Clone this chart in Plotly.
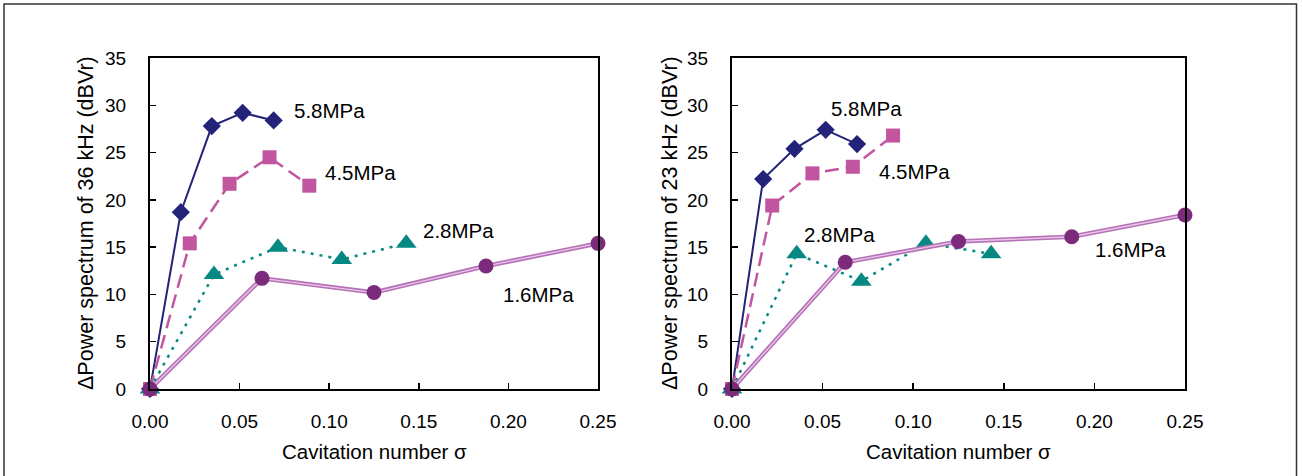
import plotly.graph_objects as go

# ---- data ----
x58 = [0, 0.0172, 0.0345, 0.0517, 0.069]
x45 = [0, 0.0222, 0.0444, 0.0667, 0.0889]
x28 = [0, 0.0357, 0.0714, 0.107, 0.143]
x16 = [0, 0.0625, 0.125, 0.1875, 0.25]

y36_58 = [0, 18.7, 27.8, 29.2, 28.4]
y36_45 = [0, 15.4, 21.7, 24.5, 21.5]
y36_28 = [0, 12.1, 15.0, 13.7, 15.4]
y36_16 = [0, 11.7, 10.2, 13.0, 15.4]

y23_58 = [0, 22.2, 25.4, 27.4, 25.9]
y23_45 = [0, 19.4, 22.8, 23.5, 26.8]
y23_28 = [0, 14.3, 11.4, 15.4, 14.3]
y23_16 = [0, 13.4, 15.6, 16.1, 18.4]

labels = ["5.8MPa", "4.5MPa", "2.8MPa", "1.6MPa"]
lab36 = [(0.0790, 29.4), (0.0965, 22.9), (0.151, 16.8), (0.196, 10.0)]
lab23 = [(0.0535, 29.7), (0.080, 23.0), (0.0386, 16.3), (0.199, 14.7)]

xticks = [0, 0.05, 0.10, 0.15, 0.20, 0.25]
yticks = [0, 5, 10, 15, 20, 25, 30, 35]
ytitles = ["\u0394Power spectrum of 36 kHz (dBVr)", "\u0394Power spectrum of 23 kHz (dBVr)"]
xtitle = "Cavitation number \u03c3"

NAVY = "#23237a"
PINK = "#c1559f"
TEAL = "#078882"
PURP = "#7b2a7c"
PURL = "#b672b6"
FONT = "Liberation Sans, Arial, sans-serif"

fig = go.Figure()

def add_panel(ax, y58, y45, y28, y16):
    xa = "x" if ax == 1 else "x2"
    ya = "y" if ax == 1 else "y2"
    fig.add_trace(go.Scatter(x=x58, y=y58, mode="lines+markers", xaxis=xa, yaxis=ya,
                             line=dict(color=NAVY, width=2),
                             marker=dict(symbol="diamond", size=14, color=NAVY),
                             cliponaxis=False, showlegend=False))
    fig.add_trace(go.Scatter(x=x45, y=y45, mode="lines+markers", xaxis=xa, yaxis=ya,
                             line=dict(color=PINK, width=2.5, dash="14px,7px"),
                             marker=dict(symbol="square", size=14, color=PINK),
                             cliponaxis=False, showlegend=False))
    fig.add_trace(go.Scatter(x=x28, y=y28, mode="lines+markers", xaxis=xa, yaxis=ya,
                             line=dict(color=TEAL, width=2.5, dash="3px,6px"),
                             marker=dict(symbol="triangle-up", size=18, color=TEAL),
                             cliponaxis=False, showlegend=False))
    # 1.6 MPa (double line)
    fig.add_trace(go.Scatter(x=x16, y=y16, mode="lines", xaxis=xa, yaxis=ya,
                             line=dict(color=PURL, width=4.5), cliponaxis=False, showlegend=False))
    fig.add_trace(go.Scatter(x=x16, y=y16, mode="lines+markers", xaxis=xa, yaxis=ya,
                             line=dict(color="#e9c6e9", width=1.3),
                             marker=dict(symbol="circle", size=15, color=PURP),
                             cliponaxis=False, showlegend=False))

add_panel(1, y36_58, y36_45, y36_28, y36_16)
add_panel(2, y23_58, y23_45, y23_28, y23_16)

W, H = 1302, 476
def px(v):
    return v / W
def py(v):
    return (H - v) / H

axis_common = dict(showgrid=False, zeroline=False, showline=True, linecolor="black",
                   linewidth=2, mirror=True, ticks="inside", ticklen=6, tickwidth=1.5,
                   tickcolor="black", automargin=False,
                   tickfont=dict(family=FONT, size=19, color="black"))

fig.update_layout(
    width=W, height=H, margin=dict(l=0, r=0, t=0, b=0, pad=0, autoexpand=False),
    paper_bgcolor="white", plot_bgcolor="white",
    xaxis=dict(domain=[px(150), px(598)], range=[0, 0.25], tickvals=xticks,
               tickformat=".2f", anchor="y", ticklabelstandoff=14, **axis_common),
    yaxis=dict(domain=[py(389), py(58)], range=[0, 35], tickvals=yticks, anchor="x",
               ticklabelstandoff=18, **axis_common),
    xaxis2=dict(domain=[px(732), px(1185)], range=[0, 0.25], tickvals=xticks,
                tickformat=".2f", anchor="y2", ticklabelstandoff=14, **axis_common),
    yaxis2=dict(domain=[py(389), py(58)], range=[0, 35], tickvals=yticks, anchor="x2",
                ticklabelstandoff=18, **axis_common),
    showlegend=False,
)

ann = []
for (lx, ly), t in zip(lab36, labels):
    ann.append(dict(x=lx, y=ly, xref="x", yref="y", text=t, showarrow=False,
                    xanchor="left", yanchor="middle", font=dict(family=FONT, size=20.5, color="black")))
for (lx, ly), t in zip(lab23, labels):
    ann.append(dict(x=lx, y=ly, xref="x2", yref="y2", text=t, showarrow=False,
                    xanchor="left", yanchor="middle", font=dict(family=FONT, size=20.5, color="black")))
# axis titles
ann.append(dict(x=px(374), y=py(451), xref="paper", yref="paper", text=xtitle, showarrow=False,
                xanchor="center", yanchor="middle", font=dict(family=FONT, size=20.5, color="black")))
ann.append(dict(x=px(958), y=py(451), xref="paper", yref="paper", text=xtitle, showarrow=False,
                xanchor="center", yanchor="middle", font=dict(family=FONT, size=20.5, color="black")))
ann.append(dict(x=px(86), y=py(223), xref="paper", yref="paper", text=ytitles[0], showarrow=False,
                textangle=-90, xanchor="center", yanchor="middle",
                font=dict(family=FONT, size=21.5, color="black")))
ann.append(dict(x=px(670), y=py(223), xref="paper", yref="paper", text=ytitles[1], showarrow=False,
                textangle=-90, xanchor="center", yanchor="middle",
                font=dict(family=FONT, size=21.5, color="black")))
fig.update_layout(annotations=ann)

fig.add_shape(type="rect", xref="paper", yref="paper", x0=px(4), x1=px(1296.5), y0=-0.02, y1=py(4),
              line=dict(color="#333333", width=1.5), fillcolor="rgba(0,0,0,0)", layer="below")

fig.write_html("out.html", config={"displayModeBar": False, "staticPlot": True},
               post_script="document.body.style.margin='0';document.body.style.overflow='hidden';")
